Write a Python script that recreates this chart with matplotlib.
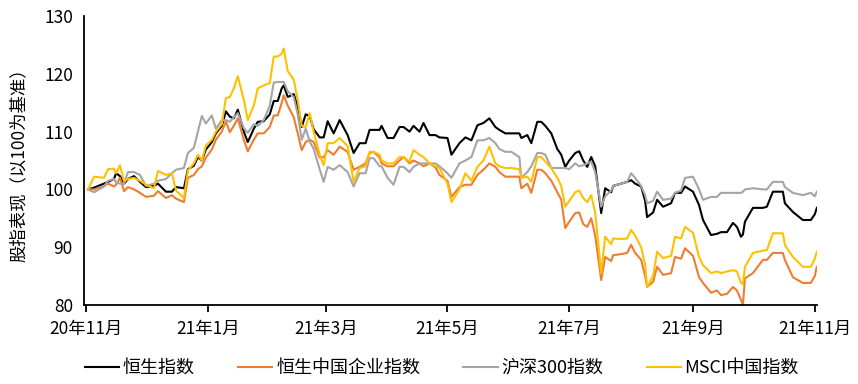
import pandas as pd
import matplotlib
matplotlib.use("Agg")
import matplotlib.pyplot as plt

plt.rcParams["font.family"] = ["Noto Sans CJK SC", "DejaVu Sans"]

# days since 2020-11-02
days = [0, 3, 8, 10, 13, 14, 16, 18, 20, 23, 26, 29, 33, 35, 39, 42, 44, 48, 50, 53,
        55, 57, 59, 62, 64, 67, 69, 71, 73, 75, 78, 80, 83, 85, 88, 91, 93, 95, 97, 98,
        100, 103, 105, 107, 109, 111, 113, 116, 118, 120, 123, 126, 130, 133, 136, 139, 141, 143, 146, 147,
        150, 153, 156, 158, 161, 163, 166, 168, 171, 174, 176, 180, 182, 186, 189, 192, 195, 198, 201, 204,
        206, 209, 212, 216, 217, 220, 222, 225, 227, 229, 232, 235, 237, 239, 241, 244, 246, 248, 250, 252,
        254, 257, 259, 262, 263, 267, 270, 272, 274, 277, 279, 280, 283, 285, 288, 292, 294, 297, 299, 303,
        306, 308, 312, 315, 317, 320, 323, 325, 327, 328, 329, 333, 338, 340, 343, 348, 349, 353, 358, 362,
        364, 365]

hsi = [100, 100.3, 101, 101.3, 101.8, 102.8, 102.3, 101, 101.8, 102.3, 101.3, 100.4, 100.6, 101, 99.6, 99.6, 100.4, 100.2, 103.5, 104.1,
       105.6, 105, 106.9, 108.2, 109.7, 111, 113.5, 112.6, 112.3, 113.8, 110, 108.2, 110.5, 111.7, 111.8, 113, 115.3, 115.3, 117.5, 118,
       116, 116.5, 114.4, 110.8, 113, 112.7, 110.4, 109, 109, 111.8, 109.7, 112, 109.4, 106.3, 108, 108, 110.3, 110.3, 110.3, 111,
       108.9, 108.9, 110.8, 110.8, 110, 111, 110, 111.5, 109.4, 109.4, 109, 108.9, 106, 108, 109, 108.5, 111.1, 111.5, 112.3, 110.8,
       110.3, 109.7, 109.7, 109.7, 108.9, 109.4, 108, 111.7, 111.7, 111, 109.7, 107, 106, 103.9, 105, 106.3, 106.6, 105, 103.9, 105.6,
       104, 95.9, 100.2, 99.5, 100.6, 101, 101.3, 101.6, 101, 100.5, 98, 95.2, 96, 98.2, 97, 97.6, 99.4, 99.4, 100.5, 99.6,
       97.3, 94.7, 92.1, 92.3, 92.6, 92.6, 94.2, 93.5, 91.8, 92.2, 94.4, 96.8, 96.8, 97, 99.6, 99.6, 97.6, 96.1, 94.7, 94.7,
       95.7, 96.8]

hscei = [100, 100, 100.6, 101, 100.5, 100.8, 102, 99.7, 100.4, 100, 99.4, 98.7, 98.9, 99.7, 98.5, 99, 98.4, 97.8, 102, 102.5,
         103.5, 104, 105.5, 106.9, 108.6, 110, 111.8, 109.9, 111, 112.3, 108.6, 106.6, 108.6, 109.7, 109.7, 110.8, 112.8, 112.8, 115, 116.3,
         114.5, 112.5, 109.7, 106.8, 108.2, 108.6, 108.2, 105.5, 105.6, 106.8, 106, 107.4, 106.5, 103.4, 103.9, 104.5, 106.3, 106.5, 105.5, 104.5,
         104, 104, 105, 105.6, 104.5, 105, 104.5, 104, 104.5, 103.8, 102.5, 101.5, 98.7, 100.4, 100.8, 100.8, 102.5, 103.4, 104.5, 103.9,
         103, 102.2, 102.2, 102.2, 100.2, 101, 99.4, 103.4, 103.4, 102.8, 101.5, 99.5, 98.2, 93.3, 94.4, 95.9, 96, 94, 93.5, 95,
         92, 84.3, 88.3, 87.6, 88.6, 88.8, 89, 90.4, 89, 87.8, 85, 83.1, 84, 86.6, 85.2, 85.5, 88.3, 88, 89.8, 88.5,
         84.8, 83.8, 82.1, 82.5, 81.7, 81.9, 83.1, 82.5, 80.9, 80, 84.6, 85.5, 87.8, 87.8, 89, 89, 87.8, 84.8, 83.8, 83.8,
         85, 86.6]

csi300 = [100, 99.5, 100.5, 101.5, 101.8, 101.2, 101, 101, 103, 103, 102.5, 100.6, 101, 101.5, 101.8, 102.8, 103.4, 103.7, 106.3, 107.2,
          110, 112.7, 111.4, 112.8, 110.5, 112, 112, 111.7, 112.5, 113.2, 110.6, 109.8, 111.3, 111, 112, 114.5, 118.5, 118.6, 118.6, 118.6,
          117, 116, 113, 108.6, 110.5, 108.3, 107, 103.5, 101.3, 103.9, 103.4, 104.2, 103, 100.5, 102.8, 102.8, 105.4, 105.4, 104, 104,
          102, 100.8, 103.9, 103.9, 103, 103.9, 104.5, 104.5, 104.5, 104.5, 104, 102.8, 102, 104.5, 105, 105.6, 108.5, 108.5, 108.9, 108,
          107, 106.5, 106.5, 105.6, 102, 103, 104, 106.3, 106.3, 106, 103.7, 103.7, 103.7, 103.7, 103.5, 104.5, 104, 104.2, 104.5, 104.8,
          103, 97, 98.8, 99.8, 100.6, 101, 101.3, 102.8, 102, 100.6, 99, 97.6, 98, 99.6, 98.2, 98.4, 99.4, 99.8, 102, 102.2,
          100, 98.2, 98.7, 98.7, 99.4, 99.4, 99.4, 99.4, 99.4, 99.6, 100, 100.2, 100, 100, 101.3, 101.3, 100.4, 99.4, 99, 99.4,
          98.8, 99.6]

msci = [100, 102.2, 102, 103.5, 103.6, 102.8, 104.2, 101.4, 101.8, 102, 101.5, 100.8, 100.2, 103.2, 102.5, 102.8, 99.8, 98.5, 103.3, 104.5,
        106, 105, 107.6, 108.6, 110, 111.3, 115.8, 116, 117.5, 119.6, 115.5, 112, 114.5, 117.5, 118, 118.4, 123, 123, 123.5, 124.4,
        120.5, 119, 115.5, 111, 110.8, 113.2, 110, 106, 104.2, 108, 108, 108.9, 107.5, 101.3, 103.7, 104, 106.5, 106.5, 106, 105,
        104.5, 104.5, 105.6, 105.6, 104.8, 106.8, 106, 105.6, 104.5, 104, 103.7, 101, 97.8, 100, 102.8, 101.5, 103.9, 105, 107.4, 104.5,
        104, 103.7, 103.7, 103.5, 102, 102.2, 101.3, 105.6, 105.6, 104.8, 103.7, 102, 100.6, 97, 98, 99.5, 99.8, 98.5, 97.8, 99,
        96, 85.5, 91.8, 90.5, 91.5, 91.4, 91.5, 93, 92, 90, 87, 83.1, 85, 89.2, 88.1, 88.5, 91.8, 91.5, 93.5, 92.5,
        88.3, 86.9, 85.5, 85.8, 85.5, 85.8, 86, 85.8, 83.8, 83.6, 86.6, 89, 89.4, 89.5, 92.4, 92.4, 90.4, 88.3, 86.6, 86.6,
        88, 89.2]

series_names = ["恒生指数", "恒生中国企业指数", "沪深300指数", "MSCI中国指数"]
series_colors = ["#000000", "#ED7D31", "#A5A5A5", "#FFC000"]
tick_dates = ["2020-11-01", "2021-01-01", "2021-03-01", "2021-05-01", "2021-07-01", "2021-09-01", "2021-11-01"]
tick_labels = ["20年11月", "21年1月", "21年3月", "21年5月", "21年7月", "21年9月", "21年11月"]

start = pd.Timestamp("2020-11-02")
dates = start + pd.to_timedelta(days, unit="D")

fig = plt.figure(figsize=(8.58, 3.84), dpi=100)
ax = fig.add_axes([0.098, 0.206, 0.854, 0.752])

for vals, name, col in zip([hsi, hscei, csi300, msci], series_names, series_colors):
    ax.plot(dates, vals, color=col, lw=1.5, label=name)

ax.set_ylim(80, 130)
ax.set_yticks(range(80, 131, 10))
ax.set_xlim(pd.Timestamp("2020-10-31"), pd.Timestamp("2021-11-02"))
ax.set_xticks(pd.to_datetime(tick_dates))
ax.set_xticklabels(tick_labels)

for s in ["top", "right"]:
    ax.spines[s].set_visible(False)
for s in ["left", "bottom"]:
    ax.spines[s].set_linewidth(1.3)
ax.tick_params(axis="x", direction="out", length=5, width=1.3, pad=6, labelsize=12.5)
ax.tick_params(axis="y", length=0, pad=8, labelsize=12.5)
ax.set_ylabel("股指表现（以100为基准）", fontsize=12.5, labelpad=12)

fig.legend(loc="center", bbox_to_anchor=(0.515, 0.042), ncol=4, frameon=False,
           fontsize=13, handlelength=1.9, handletextpad=0.2, columnspacing=2.4)

fig.savefig("out.png", dpi=100)
